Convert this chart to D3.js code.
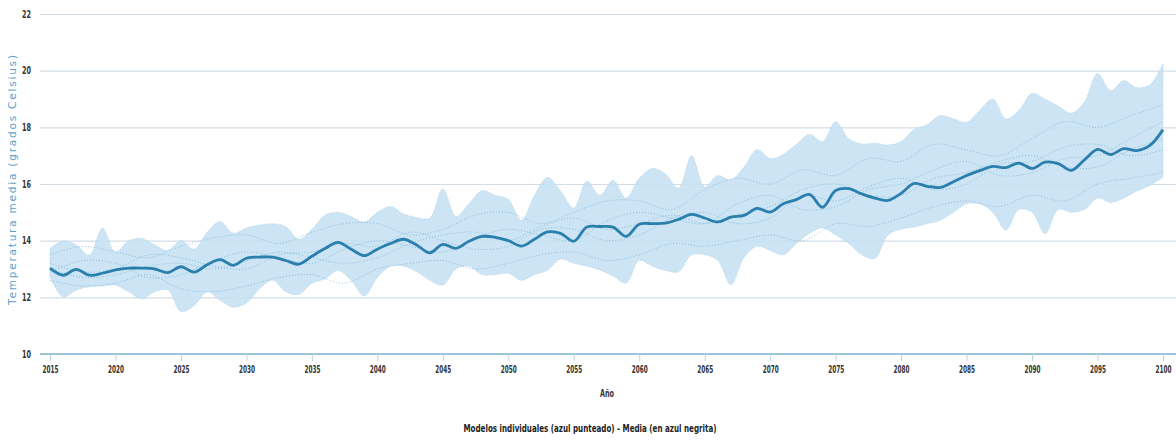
<!DOCTYPE html>
<html>
<head>
<meta charset="utf-8">
<script src="https://cdn.jsdelivr.net/npm/d3@7"></script>
<style>
  body { margin: 0; background: #fff; }
  svg text { font-family: "DejaVu Sans", sans-serif; font-stretch: condensed; }
</style>
</head>
<body>
<svg id="chart"></svg>
<script>
const width = 1176,
      height = 444;

// annual values, 2015..2100
const years = d3.range(2015, 2101);

const meanTemp = [
  13.03, 12.78, 12.99, 12.78, 12.85, 12.97, 13.03, 13.03, 13.00, 12.87,
  13.08, 12.89, 13.15, 13.33, 13.13, 13.38, 13.42, 13.42, 13.30, 13.17,
  13.45, 13.72, 13.94, 13.70, 13.47, 13.70, 13.90, 14.05, 13.85, 13.57,
  13.87, 13.73, 13.98, 14.15, 14.12, 14.00, 13.81, 14.05, 14.31, 14.26,
  13.98, 14.48, 14.50, 14.48, 14.15, 14.58, 14.60, 14.62, 14.75, 14.93,
  14.80, 14.66, 14.83, 14.89, 15.14, 15.01, 15.30, 15.45, 15.63, 15.18,
  15.77, 15.84, 15.65, 15.50, 15.42, 15.67, 16.02, 15.92, 15.88, 16.08,
  16.30, 16.47, 16.62, 16.58, 16.74, 16.55, 16.77, 16.72, 16.48, 16.85,
  17.22, 17.04, 17.25, 17.18, 17.36, 17.92
];

const upperTemp = [
  13.73, 14.00, 13.85, 13.49, 14.44, 13.60, 14.00, 14.08, 13.85, 13.66,
  14.00, 13.70, 14.30, 14.68, 14.26, 14.45, 14.55, 14.60, 14.50, 14.05,
  14.40, 14.90, 15.00, 14.85, 14.66, 15.00, 15.21, 14.95, 14.82, 14.80,
  15.83, 14.85, 15.30, 15.77, 15.60, 15.45, 14.72, 15.60, 16.24, 15.75,
  15.15, 16.10, 15.60, 16.13, 15.50, 16.20, 16.55, 16.35, 15.85, 17.00,
  15.90, 16.30, 16.15, 16.60, 17.22, 16.90, 17.05, 17.40, 17.75, 17.50,
  18.20, 17.60, 17.42, 17.44, 17.38, 17.50, 17.92, 18.10, 18.42, 18.30,
  18.18, 18.60, 19.00, 18.30, 18.60, 19.20, 19.00, 18.75, 18.50, 18.90,
  19.90, 19.30, 19.65, 19.40, 19.50, 20.24
];

const lowerTemp = [
  12.72, 12.02, 12.25, 12.37, 12.40, 12.43, 12.20, 11.95, 12.20, 12.25,
  11.50, 11.70, 12.20, 11.90, 11.65, 11.80, 12.30, 12.60, 12.20, 12.10,
  12.50, 12.65, 12.95, 12.60, 12.05, 12.70, 13.10, 13.10, 12.90, 12.60,
  12.43, 13.00, 13.10, 12.80, 12.80, 12.85, 12.60, 12.80, 12.96, 13.35,
  13.20, 13.10, 12.96, 12.75, 12.50, 13.30, 13.10, 12.95, 12.90, 13.50,
  13.50, 13.30, 12.45, 13.40, 13.80, 13.65, 13.50, 13.90, 14.25, 14.45,
  14.20, 13.90, 13.50, 13.37, 14.20, 14.40, 14.48, 14.60, 14.72, 15.00,
  15.30, 15.30, 15.00, 14.37, 15.10, 15.00, 14.25, 15.10, 15.00, 15.10,
  15.50, 15.35, 15.50, 15.75, 15.95, 16.24
];

// individual models (dotted), read every 2.5 years
const modelYears = d3.range(2015, 2101, 2.5);
const modelA = [13.5, 13.8, 13.6, 13.4, 13.8, 14.1, 14.2, 13.9, 14.3, 14.6, 14.6, 14.2, 14.4, 14.9, 15.0, 14.6, 15.0, 15.4, 15.4, 15.1, 15.8, 16.2, 16.0, 16.5, 16.3, 16.9, 16.8, 17.4, 17.2, 17.0, 17.6, 18.2, 18.0, 18.4, 18.8];
const modelB = [12.6, 12.4, 12.5, 12.8, 12.3, 12.2, 12.4, 12.7, 12.8, 12.5, 13.0, 13.2, 13.3, 13.0, 13.2, 13.5, 13.6, 13.3, 13.5, 13.9, 13.8, 14.0, 14.2, 14.0, 14.6, 14.5, 14.8, 15.2, 15.4, 15.2, 15.6, 15.4, 16.0, 16.2, 16.4];
const modelC = [13.2, 12.9, 13.0, 13.5, 13.4, 13.1, 13.0, 13.5, 13.6, 13.9, 13.8, 14.3, 14.0, 13.7, 13.8, 14.4, 14.4, 14.0, 14.2, 14.8, 15.0, 14.6, 14.8, 15.6, 15.4, 15.9, 16.2, 15.8, 16.0, 16.7, 16.8, 17.3, 17.4, 17.0, 17.2];
const modelD = [12.9, 13.3, 13.2, 12.7, 12.8, 13.3, 13.6, 13.4, 13.2, 13.7, 14.0, 13.8, 13.6, 14.1, 14.4, 14.2, 14.0, 14.7, 15.0, 14.8, 14.6, 15.3, 15.6, 15.1, 15.2, 15.8, 16.0, 16.5, 16.8, 16.3, 16.4, 16.9, 17.0, 17.6, 18.2];
const modelE = [13.0, 12.7, 12.8, 13.1, 13.2, 13.0, 13.3, 13.6, 13.4, 13.2, 13.4, 13.9, 14.2, 14.3, 14.0, 14.5, 14.8, 14.4, 14.6, 14.9, 14.6, 14.9, 15.2, 15.8, 16.0, 15.6, 15.6, 16.2, 16.4, 16.8, 17.0, 16.6, 16.6, 17.2, 17.6];
const models = [modelA, modelB, modelC, modelD, modelE];

const yTicks = [10, 12, 14, 16, 18, 20, 22];
const xTicks = d3.range(2015, 2101, 5);

const svg = d3.select("#chart")
  .attr("width", width)
  .attr("height", height);

const x = d3.scaleLinear().domain([2015, 2100]).range([50, 1163]);
const y = d3.scaleLinear().domain([10, 22]).range([354, 14]);

// grid + y labels
const yAxis = svg.append("g")
  .attr("transform", "translate(40,0)")
  .call(d3.axisLeft(y).tickValues(yTicks).tickSize(-1136).tickPadding(9));
yAxis.select(".domain").remove();
yAxis.selectAll(".tick line").attr("stroke", "#d3dde6").attr("stroke-width", 1.2);
yAxis.selectAll(".tick text")
  .attr("fill", "#333")
  .attr("font-size", "10px")
  .attr("font-weight", "bold")
  .attr("font-family", null)
  .attr("textLength", 9)
  .attr("lengthAdjust", "spacingAndGlyphs");

svg.append("path")
  .datum(years.map((yr, i) => ({ yr, lo: lowerTemp[i], hi: upperTemp[i] })))
  .attr("fill", "#c6e1f2")
  .attr("fill-opacity", 0.9)
  .attr("stroke", "#a9d0ea")
  .attr("stroke-width", 0.8)
  .attr("stroke-dasharray", "1,1.5")
  .attr("d", d3.area()
    .x(d => x(d.yr))
    .y0(d => y(d.lo))
    .y1(d => y(d.hi))
    .curve(d3.curveCatmullRom.alpha(0.5)));

const modelLine = d3.line()
  .x((d, i) => x(modelYears[i]))
  .y(d => y(d))
  .curve(d3.curveCatmullRom.alpha(0.5));

svg.append("g")
  .selectAll("path")
  .data(models)
  .join("path")
  .attr("fill", "none")
  .attr("stroke", "#4f9acb")
  .attr("stroke-opacity", 0.6)
  .attr("stroke-width", 0.9)
  .attr("stroke-dasharray", "1,2")
  .attr("d", modelLine);

svg.append("path")
  .datum(meanTemp)
  .attr("fill", "none")
  .attr("stroke", "#2a7fae")
  .attr("stroke-width", 2.8)
  .attr("d", d3.line()
    .x((d, i) => x(years[i]))
    .y(d => y(d))
    .curve(d3.curveCatmullRom.alpha(0.5)));

// baseline at 10 in blue
svg.append("line")
  .attr("x1", 40).attr("x2", width)
  .attr("y1", y(10)).attr("y2", y(10))
  .attr("stroke", "#86b6d6")
  .attr("stroke-width", 1.3);

const xAxis = svg.append("g")
  .attr("transform", `translate(0,${y(10)})`)
  .call(d3.axisBottom(x).tickValues(xTicks).tickFormat(d3.format("d")).tickSize(7).tickPadding(5));
xAxis.select(".domain").remove();
xAxis.selectAll(".tick line").attr("stroke", "#b9d3e4");
xAxis.selectAll(".tick text")
  .attr("fill", "#333")
  .attr("font-size", "10px")
  .attr("font-weight", "bold")
  .attr("font-family", null)
  .attr("textLength", 16)
  .attr("lengthAdjust", "spacingAndGlyphs");

svg.append("text")
  .attr("x", 607)
  .attr("y", 397)
  .attr("text-anchor", "middle")
  .attr("font-size", "10px")
  .attr("font-weight", "bold")
  .attr("fill", "#333")
  .attr("textLength", 14)
  .attr("lengthAdjust", "spacingAndGlyphs")
  .text("Año");

svg.append("text")
  .attr("x", 590)
  .attr("y", 432)
  .attr("text-anchor", "middle")
  .attr("font-size", "10.5px")
  .attr("font-weight", "bold")
  .attr("fill", "#222")
  .attr("textLength", 253)
  .attr("lengthAdjust", "spacingAndGlyphs")
  .text("Modelos individuales (azul punteado) - Media (en azul negrita)");

svg.append("text")
  .attr("transform", "translate(16,180) rotate(-90)")
  .attr("text-anchor", "middle")
  .style("font-stretch", "normal")
  .attr("font-size", "10.5px")
  .attr("fill", "#5d9fcb")
  .attr("textLength", 250)
  .attr("lengthAdjust", "spacing")
  .text("Temperatura media (grados Celsius)");
</script>
</body>
</html>
